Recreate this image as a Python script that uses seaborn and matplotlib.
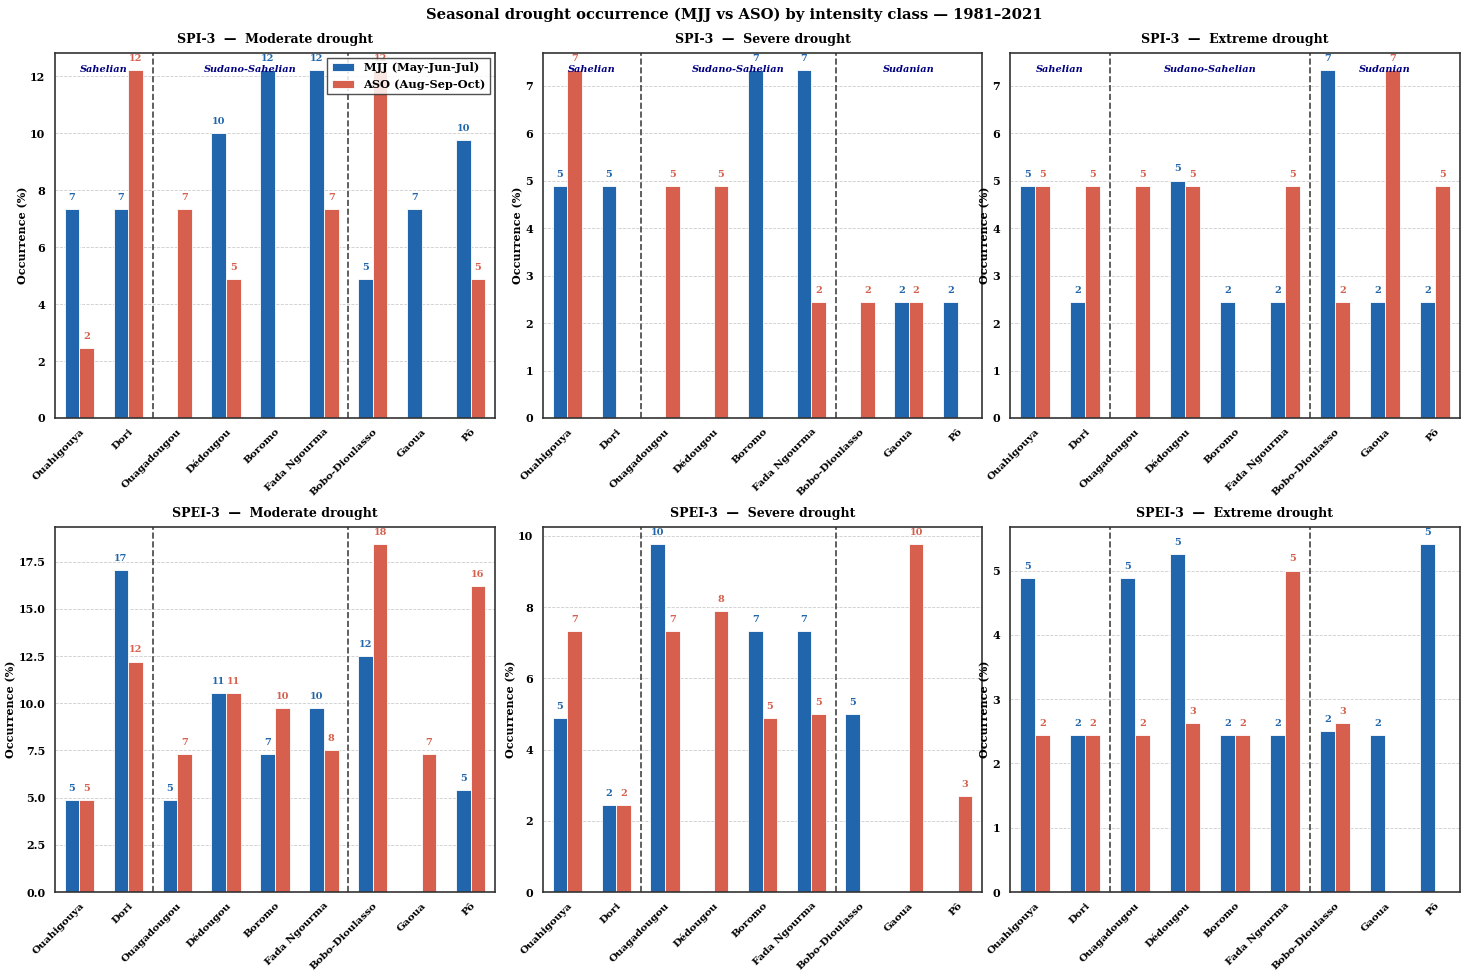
import matplotlib
matplotlib.use("Agg")
import matplotlib.pyplot as plt
import seaborn as sns
import pandas as pd
import numpy as np

stations = ["Ouahigouya", "Dori", "Ouagadougou", "Dédougou", "Boromo",
            "Fada Ngourma", "Bobo-Dioulasso", "Gaoua", "Pô"]
seasons = ["MJJ (May-Jun-Jul)", "ASO (Aug-Sep-Oct)"]
indices = ["SPI-3", "SPEI-3"]
classes = ["Moderate drought", "Severe drought", "Extreme drought"]
zones = ["Sahelian", "Sudano-Sahelian", "Sudanian"]

# SPI-3
spi_mod_mjj = [7.32, 7.32, 0.0, 10.0, 12.2, 12.2, 4.88, 7.32, 9.76]
spi_mod_aso = [2.44, 12.2, 7.32, 4.88, 0.0, 7.32, 12.2, 0.0, 4.88]
spi_sev_mjj = [4.88, 4.88, 0.0, 0.0, 7.32, 7.32, 0.0, 2.44, 2.44]
spi_sev_aso = [7.32, 0.0, 4.88, 4.88, 0.0, 2.44, 2.44, 2.44, 0.0]
spi_ext_mjj = [4.88, 2.44, 0.0, 5.0, 2.44, 2.44, 7.32, 2.44, 2.44]
spi_ext_aso = [4.88, 4.88, 4.88, 4.88, 0.0, 4.88, 2.44, 7.32, 4.88]
# SPEI-3
spei_mod_mjj = [4.88, 17.07, 4.88, 10.53, 7.32, 9.76, 12.5, 0.0, 5.41]
spei_mod_aso = [4.88, 12.2, 7.32, 10.53, 9.76, 7.5, 18.42, 7.32, 16.22]
spei_sev_mjj = [4.88, 2.44, 9.76, 0.0, 7.32, 7.32, 5.0, 0.0, 0.0]
spei_sev_aso = [7.32, 2.44, 7.32, 7.89, 4.88, 5.0, 0.0, 9.76, 2.70]
spei_ext_mjj = [4.88, 2.44, 4.88, 5.26, 2.44, 2.44, 2.5, 2.44, 5.41]
spei_ext_aso = [2.44, 2.44, 2.44, 2.63, 2.44, 5.0, 2.63, 0.0, 0.0]

panels = {
    ("SPI-3", "Moderate drought"): (spi_mod_mjj, spi_mod_aso),
    ("SPI-3", "Severe drought"): (spi_sev_mjj, spi_sev_aso),
    ("SPI-3", "Extreme drought"): (spi_ext_mjj, spi_ext_aso),
    ("SPEI-3", "Moderate drought"): (spei_mod_mjj, spei_mod_aso),
    ("SPEI-3", "Severe drought"): (spei_sev_mjj, spei_sev_aso),
    ("SPEI-3", "Extreme drought"): (spei_ext_mjj, spei_ext_aso),
}

BLUE = "#2166ac"
RED = "#d6604d"
palette = {seasons[0]: BLUE, seasons[1]: RED}

sns.set_style("white")
plt.rcParams["font.family"] = ["DejaVu Serif"]
plt.rcParams["font.weight"] = "bold"
plt.rcParams["axes.titleweight"] = "bold"
plt.rcParams["axes.labelweight"] = "bold"
plt.rcParams["text.color"] = "black"
plt.rcParams["axes.labelcolor"] = "black"
plt.rcParams["xtick.color"] = "black"
plt.rcParams["ytick.color"] = "black"

W, H = 1469, 980
fig, axes = plt.subplots(2, 3, figsize=(W / 100, H / 100), dpi=100)
col_x = [(55, 495), (543, 982), (1010, 1460)]
row_y = [(53, 418), (527, 892)]

for r, idx in enumerate(indices):
    for c, cls in enumerate(classes):
        ax = axes[r, c]
        x0, x1 = col_x[c]
        y0, y1 = row_y[r]
        ax.set_position([x0 / W, 1 - y1 / H, (x1 - x0) / W, (y1 - y0) / H])
        mjj, aso = panels[(idx, cls)]
        df = pd.DataFrame({
            "Station": stations * 2,
            "Season": [seasons[0]] * len(stations) + [seasons[1]] * len(stations),
            "Occurrence": list(mjj) + list(aso),
        })
        sns.barplot(data=df, x="Station", y="Occurrence", hue="Season",
                    order=stations, hue_order=seasons, palette=palette,
                    width=0.6, edgecolor="white", linewidth=0.6,
                    saturation=1, ax=ax, legend=(r == 0 and c == 0), zorder=2)
        ymax = max(max(mjj), max(aso)) * 1.05
        ax.set_ylim(0, ymax)
        for cont, col in zip(ax.containers, [BLUE, RED]):
            for bar in cont:
                h = bar.get_height()
                if h > 0:
                    ax.text(bar.get_x() + bar.get_width() / 2, h + ymax * 0.02,
                            "%.0f" % h, ha="center", va="bottom",
                            fontsize=7, fontweight="bold", color=col, zorder=3)
        for xd in (1.5, 5.5):
            ax.axvline(xd, color="#444444", linestyle="--", linewidth=1.2, zorder=1)
        if r == 0:
            for k, (zx, zn) in enumerate(zip([0.5, 3.5, 7.0], zones)):
                if c == 0 and k == 2:
                    continue  # hidden beneath the legend
                ax.text(zx, 0.956, zn, transform=ax.get_xaxis_transform(),
                        ha="center", va="center", fontsize=7, color="navy",
                        fontstyle="italic", fontweight="bold", zorder=3)
        ax.set_title(f"{idx}  —  {cls}", fontsize=9, fontweight="bold", pad=7)
        ax.set_xlabel("")
        ax.set_ylabel("Occurrence (%)", fontsize=8, fontweight="bold", labelpad=1.5)
        ax.yaxis.grid(True, linestyle="--", linewidth=0.6, color="#cccccc", zorder=0)
        ax.set_axisbelow(True)
        ax.set_xticks(range(len(stations)))
        ax.set_xticklabels(stations, rotation=45, ha="right",
                           rotation_mode="anchor", fontsize=7.5, fontweight="bold")
        ax.tick_params(axis="y", labelsize=8)
        ax.tick_params(axis="x", length=3)
        for lab in ax.get_yticklabels():
            lab.set_fontweight("bold")
        for sp in ax.spines.values():
            sp.set_visible(True)
            sp.set_color("#333333")
            sp.set_linewidth(1.2)
        if r == 0 and c == 0:
            leg = ax.legend(loc="upper right", fontsize=8.2, framealpha=0.85,
                            edgecolor="#333333", fancybox=False,
                            borderaxespad=0.4)
            leg.set_zorder(5)
            for t in leg.get_texts():
                t.set_fontweight("bold")

fig.suptitle("Seasonal drought occurrence (MJJ vs ASO) by intensity class — 1981–2021",
             fontsize=10.6, fontweight="bold", y=1 - 15 / H, va="center")
fig.savefig("out.png", dpi=100)
